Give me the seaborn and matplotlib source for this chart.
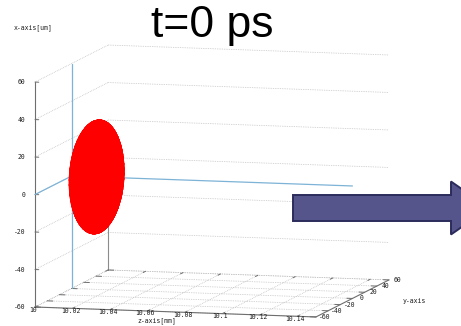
import numpy as np
import matplotlib
matplotlib.use("Agg")
import matplotlib.pyplot as plt
import matplotlib.patches as mpatches
from mpl_toolkits.mplot3d import proj3d
import seaborn as sns

# ---- axis ranges and ticks -------------------------------------------
z_range = (10.0, 10.15)          # z-axis [mm]  (horizontal)
y_range = (-60.0, 60.0)          # y-axis [um]  (depth)
x_range = (-60.0, 60.0)          # x-axis [um]  (vertical)
z_ticks = [10.0, 10.02, 10.04, 10.06, 10.08, 10.10, 10.12, 10.14]
z_tick_labels = ["10", "10.02", "10.04", "10.06", "10.08", "10.1", "10.12", "10.14"]
y_ticks = [-60, -40, -20, 0, 20, 40, 60]
x_ticks = [-60, -40, -20, 0, 20, 40, 60]

# ---- electron bunch: centre and semi-axes (z [mm], y [um], x [um]) ------
bunch_center = (10.0134, 0.0, 0.0)
bunch_radii = (0.011, 30.0, 30.0)

title = "t=0 ps"

# ---- figure / 3D axes --------------------------------------------------
sns.set_theme(style="white")
plt.rcParams["font.family"] = ["DejaVu Sans Mono"]

W, H = 461, 326
fig = plt.figure(figsize=(W / 100, H / 100), dpi=100)
fig.patch.set_facecolor("white")
ax = fig.add_axes([0, 0, 1, 1], projection="3d", proj_type="ortho",
                  computed_zorder=False)
ax.set_xlim(*z_range)
ax.set_ylim(*y_range)
ax.set_zlim(*x_range)
ax.view_init(elev=7.7, azim=-75.2)
ax.set_box_aspect((1.28, 1.26, 1.0))
ax.set_axis_off()
ax.patch.set_alpha(0)

z0, z1 = z_range
y0, y1 = y_range
x0, x1 = x_range


def screen(xs, ys, zs):
    """Project 3D data points to figure pixels."""
    px, py, _ = proj3d.proj_transform(np.atleast_1d(np.asarray(xs, float)),
                                      np.atleast_1d(np.asarray(ys, float)),
                                      np.atleast_1d(np.asarray(zs, float)),
                                      ax.get_proj())
    return ax.transData.transform(np.column_stack([px, py]))


# place the plot box: front-bottom-left and back-top-right corners (pixels)
corner_targets = np.array([[35, H - 307], [389, H - 55]], float)
fig.canvas.draw()
bb = ax.get_position()
c0 = np.array([(bb.x0 + bb.x1) / 2 * W, (bb.y0 + bb.y1) / 2 * H])
s0 = bb.width * W
p = screen([z0, z1], [y0, y1], [x0, x1])
q = (p - c0) / s0
s = ((corner_targets[1] - corner_targets[0]) / (q[1] - q[0])).mean()
c = (corner_targets - s * q).mean(axis=0)
ax.set_position([(c[0] - s / 2) / W, (c[1] - s / 2) / H, s / W, s / H])
fig.canvas.draw()

# ---- grid on the back walls and the floor ------------------------------
grid_kw = dict(color="#bcbcbc", lw=0.55, ls=(0, (1, 1.3)), zorder=1)
for xv in x_ticks:
    ax.plot([z0, z1], [y1, y1], [xv, xv], **grid_kw)   # back wall
    ax.plot([z0, z0], [y0, y1], [xv, xv], **grid_kw)   # left wall
for yv in y_ticks:
    ax.plot([z0, z1], [yv, yv], [x0, x0], **grid_kw)   # floor, along z
for zv in z_ticks:
    ax.plot([zv, zv], [y0, y1], [x0, x0], **grid_kw)   # floor, along y

# ---- border and ticks ---------------------------------------------------
border_kw = dict(color="#6e6e6e", lw=0.8, zorder=3)
ax.plot([z0, z0], [y0, y0], [x0, x1], **border_kw)
ax.plot([z0, z1], [y0, y0], [x0, x0], **border_kw)
ax.plot([z1, z1], [y0, y1], [x0, x0], **border_kw)
ax.plot([z0, z0], [y1, y1], [x0, 0.0], color="#8c8c8c", lw=0.8, zorder=3)

tick_kw = dict(color="#6e6e6e", lw=0.7, zorder=3)
for xv in x_ticks:
    ax.plot([z0, z0 + 0.002], [y0, y0], [xv, xv], **tick_kw)
for zv in z_ticks:
    ax.plot([zv, zv], [y0, y0 + 4], [x0, x0], **tick_kw)
    ax.plot([zv, zv], [y1, y1 - 4], [x0, x0], **tick_kw)
for yv in y_ticks:
    ax.plot([z1, z1 - 0.003], [yv, yv], [x0, x0], **tick_kw)
    ax.plot([z0, z0 + 0.003], [yv, yv], [x0, x0], **tick_kw)

# ---- coordinate axes through the origin --------------------------------
blue_kw = dict(color="#7db3d6", lw=0.9, zorder=4)
ax.plot([z0, z0], [0, 0], [x0, x1], **blue_kw)
ax.plot([z0, z0], [y0, 0], [0, 0], **blue_kw)
ax.plot([z0, z1], [0, 0], [0, 0], **blue_kw)

# ---- the bunch ----------------------------------------------------------
u = np.linspace(0, 2 * np.pi, 72)
v = np.linspace(0, np.pi, 36)
zc, yc, xc = bunch_center
rz, ry, rx = bunch_radii
Zs = zc + rz * np.outer(np.cos(u), np.sin(v))
Ys = yc + ry * np.outer(np.sin(u), np.sin(v))
Xs = xc + rx * np.outer(np.ones_like(u), np.cos(v))
ax.plot_surface(Zs, Ys, Xs, color="#ff0000", shade=False, linewidth=0.6,
                edgecolor="#ff0000", antialiased=True, zorder=10)

# ---- tick labels (placed at the projected tick positions) -----------------
lab_kw = dict(fontsize=4.7, color="#1e1e1e", family="DejaVu Sans Mono", zorder=12)


def label_at(pt, text, dx, dy, ha):
    fig.text((pt[0] + dx) / W, (pt[1] + dy) / H, text, ha=ha, va="center", **lab_kw)


for xv, pt in zip(x_ticks, screen([z0] * len(x_ticks), [y0] * len(x_ticks), x_ticks)):
    label_at(pt, f"{xv}", -10, 0, "right")
for lab, pt in zip(z_tick_labels, screen(z_ticks, [y0] * len(z_ticks), [x0] * len(z_ticks))):
    label_at(pt, lab, -2, -2.5, "center")
for yv, pt in zip(y_ticks, screen([z1] * len(y_ticks), y_ticks, [x0] * len(y_ticks))):
    label_at(pt, f"{yv}", 9, 0, "center")

# ---- axis titles ----------------------------------------------------------
fig.text(33 / W, 1 - 28 / H, "x-axis[um]", ha="center", va="center", **lab_kw)
fig.text(157 / W, 1 - 321 / H, "z-axis[mm]", ha="center", va="center", **lab_kw)
fig.text(414 / W, 1 - 301 / H, "y-axis", ha="center", va="center", **lab_kw)

# ---- title and propagation arrow -----------------------------------------
fig.text(212.5 / W, 1 - 37 / H, title, ha="center", va="baseline",
         fontsize=32, color="black", family=["Liberation Sans", "DejaVu Sans"])

arrow = mpatches.FancyArrow(2.93, 1.18, 1.96, 0.0, width=0.26, head_width=0.53,
                            head_length=0.38, length_includes_head=True,
                            facecolor="#55558c", edgecolor="#2c2c5c", lw=1.4,
                            transform=fig.dpi_scale_trans)
fig.add_artist(arrow)

fig.savefig("out.png", dpi=100, facecolor="white")
